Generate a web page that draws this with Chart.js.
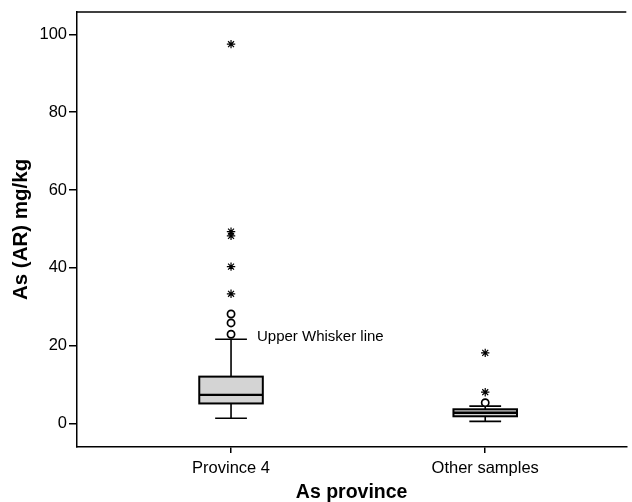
<!DOCTYPE html>
<html>
<head>
<meta charset="utf-8">
<script src="https://cdn.jsdelivr.net/npm/chart.js@4"></script>
<style>
  html, body { margin: 0; padding: 0; background: #fff; overflow: hidden; }
  canvas { display: block; }
</style>
</head>
<body>
<canvas id="boxChart" width="632" height="502"></canvas>
<script>
// categories and box summaries
const categories = ['Province 4', 'Other samples'];
const whiskerLow = [1.3, 0.5];
const q1 = [5.1, 1.8];
const median = [7.3, 2.7];
const q3 = [12.0, 3.6];
const whiskerHigh = [21.6, 4.4];

// outliers: circles (mild) and stars (extreme)
const circleCat = [0, 0, 0, 1];
const circleVal = [22.9, 25.8, 28.1, 5.3];
const starCat = [0, 0, 0, 0, 0, 1, 1];
const starVal = [97.5, 49.3, 48.2, 40.3, 33.3, 8.0, 18.1];

const yTicks = [0, 20, 40, 60, 80, 100];
const annotText = 'Upper Whisker line';

const FONT = '"Liberation Sans", Arial, sans-serif';

const boxPlugin = {
    id: 'boxes',
    beforeDatasetsDraw(chart) {
        const ctx = chart.ctx;
        const xs = chart.scales.x, ys = chart.scales.y;
        ctx.save();
        // top frame line
        ctx.strokeStyle = '#000';
        ctx.lineWidth = 1.5;
        ctx.beginPath();
        ctx.moveTo(chart.chartArea.left, chart.chartArea.top);
        ctx.lineTo(chart.chartArea.right, chart.chartArea.top);
        ctx.stroke();

        categories.forEach((c, i) => {
            const cx = xs.getPixelForValue(i);
            const half = xs.getPixelForValue(i + 0.125) - cx;
            const cap = xs.getPixelForValue(i + 0.0625) - cx;
            const yLo = ys.getPixelForValue(whiskerLow[i]);
            const yHi = ys.getPixelForValue(whiskerHigh[i]);
            const y1 = ys.getPixelForValue(q1[i]);
            const y3 = ys.getPixelForValue(q3[i]);
            const ym = ys.getPixelForValue(median[i]);
            ctx.strokeStyle = '#000';
            ctx.lineWidth = 1.6;
            // whisker stems
            ctx.beginPath();
            ctx.moveTo(cx, y1); ctx.lineTo(cx, yLo);
            ctx.moveTo(cx, y3); ctx.lineTo(cx, yHi);
            // caps
            ctx.moveTo(cx - cap, yLo); ctx.lineTo(cx + cap, yLo);
            ctx.moveTo(cx - cap, yHi); ctx.lineTo(cx + cap, yHi);
            ctx.stroke();
            // box
            ctx.fillStyle = '#d4d4d4';
            ctx.lineWidth = 2;
            ctx.fillRect(cx - half, y3, half * 2, y1 - y3);
            ctx.strokeRect(cx - half, y3, half * 2, y1 - y3);
            // median
            ctx.lineWidth = 2.4;
            ctx.beginPath();
            ctx.moveTo(cx - half, ym); ctx.lineTo(cx + half, ym);
            ctx.stroke();
        });

        // annotation next to the upper whisker of Province 4
        ctx.fillStyle = '#000';
        ctx.font = '15px ' + FONT;
        ctx.textBaseline = 'middle';
        ctx.textAlign = 'left';
        ctx.fillText(annotText, xs.getPixelForValue(0.102), ys.getPixelForValue(whiskerHigh[0]) - 2);
        ctx.restore();
    }
};

new Chart(document.getElementById('boxChart').getContext('2d'), {
    type: 'scatter',
    data: {
        datasets: [{
            label: 'mild',
            data: circleVal.map((v, i) => ({ x: circleCat[i], y: v })),
            pointStyle: 'circle',
            pointRadius: 3.6,
            backgroundColor: '#fff',
            borderColor: '#000',
            borderWidth: 1.7
        }, {
            label: 'extreme',
            data: starVal.map((v, i) => ({ x: starCat[i], y: v })),
            pointStyle: 'star',
            pointRadius: 4.2,
            borderColor: '#000',
            borderWidth: 1.2
        }]
    },
    options: {
        responsive: false,
        animation: false,
        events: [],
        layout: { padding: { top: 11, right: 1, left: 0, bottom: 0 } },
        plugins: { legend: { display: false }, tooltip: { enabled: false } },
        scales: {
            x: {
                type: 'linear',
                min: -0.606,
                max: 1.555,
                afterBuildTicks: s => { s.ticks = categories.map((c, i) => ({ value: i })); },
                afterFit: s => { s.height = 55; s.paddingLeft = 0; s.paddingRight = 0; },
                ticks: {
                    callback: v => categories[v],
                    color: '#000',
                    font: { family: FONT, size: 16.5 },
                    padding: 6,
                    maxRotation: 0
                },
                grid: { drawOnChartArea: false, drawTicks: true, tickLength: 6, color: '#000', lineWidth: 1.5 },
                border: { display: true, color: '#000', width: 1.5 },
                title: {
                    display: true,
                    text: 'As province',
                    color: '#000',
                    font: { family: FONT, size: 19.5, weight: 'bold' },
                    padding: { top: 0, bottom: -2 }
                }
            },
            y: {
                min: -6.1,
                max: 105.8,
                afterBuildTicks: s => { s.ticks = yTicks.map(v => ({ value: v })); },
                afterFit: s => { s.width = 77; },
                ticks: {
                    color: '#000',
                    font: { family: FONT, size: 16.5 },
                    padding: 2
                },
                grid: { drawOnChartArea: false, drawTicks: true, tickLength: 8, color: '#000', lineWidth: 1.5 },
                border: { display: true, color: '#000', width: 1.5 },
                title: {
                    display: true,
                    text: 'As (AR) mg/kg',
                    color: '#000',
                    font: { family: FONT, size: 20.5, weight: 'bold' },
                    padding: { top: 9, bottom: 0 }
                }
            }
        }
    },
    plugins: [boxPlugin]
});
</script>
</body>
</html>
